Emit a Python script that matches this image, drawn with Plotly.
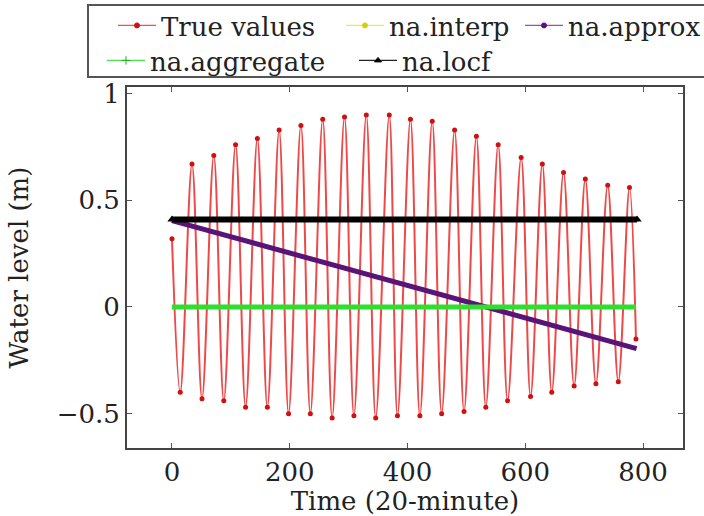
import plotly.graph_objects as go

# ---- data ----
# True values: turning points (troughs / peaks) of the tidal signal
time_true = [0, 14, 34, 51, 71, 88, 108, 125, 145, 162,
             182, 198, 219, 235, 256, 272, 293, 309, 330, 346,
             369, 383, 405, 421, 442, 458, 480, 496, 517, 533,
             554, 570, 593, 609, 629, 645, 665, 683, 702, 720,
             740, 758, 777, 788]
level_true = [0.32, -0.40, 0.67, -0.43, 0.71, -0.44, 0.76, -0.47, 0.79, -0.47,
              0.83, -0.50, 0.85, -0.50, 0.88, -0.52, 0.89, -0.51, 0.90, -0.52,
              0.90, -0.51, 0.88, -0.51, 0.87, -0.50, 0.83, -0.49, 0.80, -0.47,
              0.76, -0.44, 0.70, -0.42, 0.67, -0.40, 0.63, -0.37, 0.60, -0.36,
              0.57, -0.35, 0.56, -0.15]

time_interp = [0, 789]
level_interp = [0.405, -0.195]

time_approx = [0, 789]
level_approx = [0.405, -0.195]

time_aggregate = [0, 788]
level_aggregate = [0.0, 0.0]

time_locf = [0, 790]
level_locf = [0.41, 0.41]

x_ticks = [0, 200, 400, 600, 800]
y_ticks = [-0.5, 0, 0.5, 1]
y_tick_text = ["\u22120.5", "0", "0.5", "1"]

FONT = "DejaVu Serif"
TXT = "#222222"
W, H = 704, 516
ML, MR, MT, MB = 127, 21, 87, 68
PW, PH = W - ML - MR, H - MT - MB

def px_x(p):
    return (p - ML) / PW

def px_y(p):
    return (H - MB - p) / PH

YEL, PUR, GRN, BLK = "#e2e22a", "#5a1478", "#2ee02e", "#000000"

fig = go.Figure()

# data traces (legend entries are drawn by the thin key traces below)
fig.add_trace(go.Scatter(
    x=time_true, y=level_true, name="True values", mode="lines+markers", showlegend=False,
    line=dict(color="rgba(236,40,40,0.85)", width=2, shape="spline", smoothing=1.0),
    marker=dict(color="#d01010", size=5, symbol="circle")))
fig.add_trace(go.Scatter(
    x=time_interp, y=level_interp, name="na.interp", mode="lines", showlegend=False,
    line=dict(color=YEL, width=4)))
fig.add_trace(go.Scatter(
    x=time_approx, y=level_approx, name="na.approx", mode="lines", showlegend=False,
    line=dict(color=PUR, width=5)))
fig.add_trace(go.Scatter(
    x=time_aggregate, y=level_aggregate, name="na.aggregate", mode="lines", showlegend=False,
    line=dict(color=GRN, width=5)))
fig.add_trace(go.Scatter(
    x=time_locf, y=level_locf, name="na.locf", mode="lines+markers", showlegend=False,
    line=dict(color=BLK, width=6),
    marker=dict(color=BLK, size=8, symbol="triangle-up")))

# legend keys (thin line + small marker, as in the reference)
keys = [("True values", "#f05050", "#d01010", "circle", 5, "legend"),
        ("na.interp", "#eaea50", "#d0d010", "circle", 5, "legend2"),
        ("na.approx", "#9b4fb0", "#5a1478", "circle", 5, "legend3"),
        ("na.aggregate", "#50e050", "#20b020", "cross-thin", 6, "legend4"),
        ("na.locf", "#222222", "#000000", "triangle-up", 6, "legend5")]
for name, lc, mc, sym, ms, lg in keys:
    fig.add_trace(go.Scatter(
        x=[None], y=[None], name=name, mode="lines+markers", legend=lg,
        line=dict(color=lc, width=1.3),
        marker=dict(color=mc, size=ms, symbol=sym, line=dict(color=mc, width=1))))

def leg(xpx, ypx):
    return dict(x=px_x(xpx), y=px_y(ypx), xref="paper", yref="paper",
                xanchor="left", yanchor="top", bgcolor="rgba(0,0,0,0)",
                borderwidth=0, itemwidth=38,
                font=dict(family=FONT, size=26, color=TXT))

fig.update_layout(
    width=W, height=H,
    margin=dict(l=ML, r=MR, t=MT, b=MB, autoexpand=False),
    paper_bgcolor="white", plot_bgcolor="white",
    showlegend=True,
    legend=leg(113, 2),
    legend2=leg(341, 2),
    legend3=leg(520, 2),
    legend4=leg(102, 37),
    legend5=leg(354, 37),
    font=dict(family=FONT, size=26, color=TXT),
    xaxis=dict(
        range=[-76.4, 867.9], tickvals=x_ticks, ticktext=[str(v) for v in x_ticks],
        ticks="inside", ticklen=5, tickcolor="#555555", tickwidth=1,
        showline=True, linecolor="#444444", linewidth=2, mirror="ticks",
        showgrid=False, zeroline=False,
        tickfont=dict(family=FONT, size=26, color=TXT),
        title=dict(text="Time (20-minute)", font=dict(family=FONT, size=26, color=TXT),
                   standoff=6),
    ),
    yaxis=dict(
        range=[-0.661, 1.031], tickvals=y_ticks, ticktext=y_tick_text,
        ticks="inside", ticklen=5, tickcolor="#555555", tickwidth=1,
        showline=True, linecolor="#444444", linewidth=2, mirror="ticks",
        showgrid=False, zeroline=False,
        tickfont=dict(family=FONT, size=26, color=TXT),
        title=dict(text="Water level (m)", font=dict(family=FONT, size=26, color=TXT),
                   standoff=21),
    ),
    shapes=[dict(type="rect", xref="paper", yref="paper",
                 x0=px_x(88), x1=px_x(712), y0=px_y(77), y1=px_y(5),
                 line=dict(color="#555555", width=2), fillcolor="white", layer="below")],
)

fig.write_html("out.html")
